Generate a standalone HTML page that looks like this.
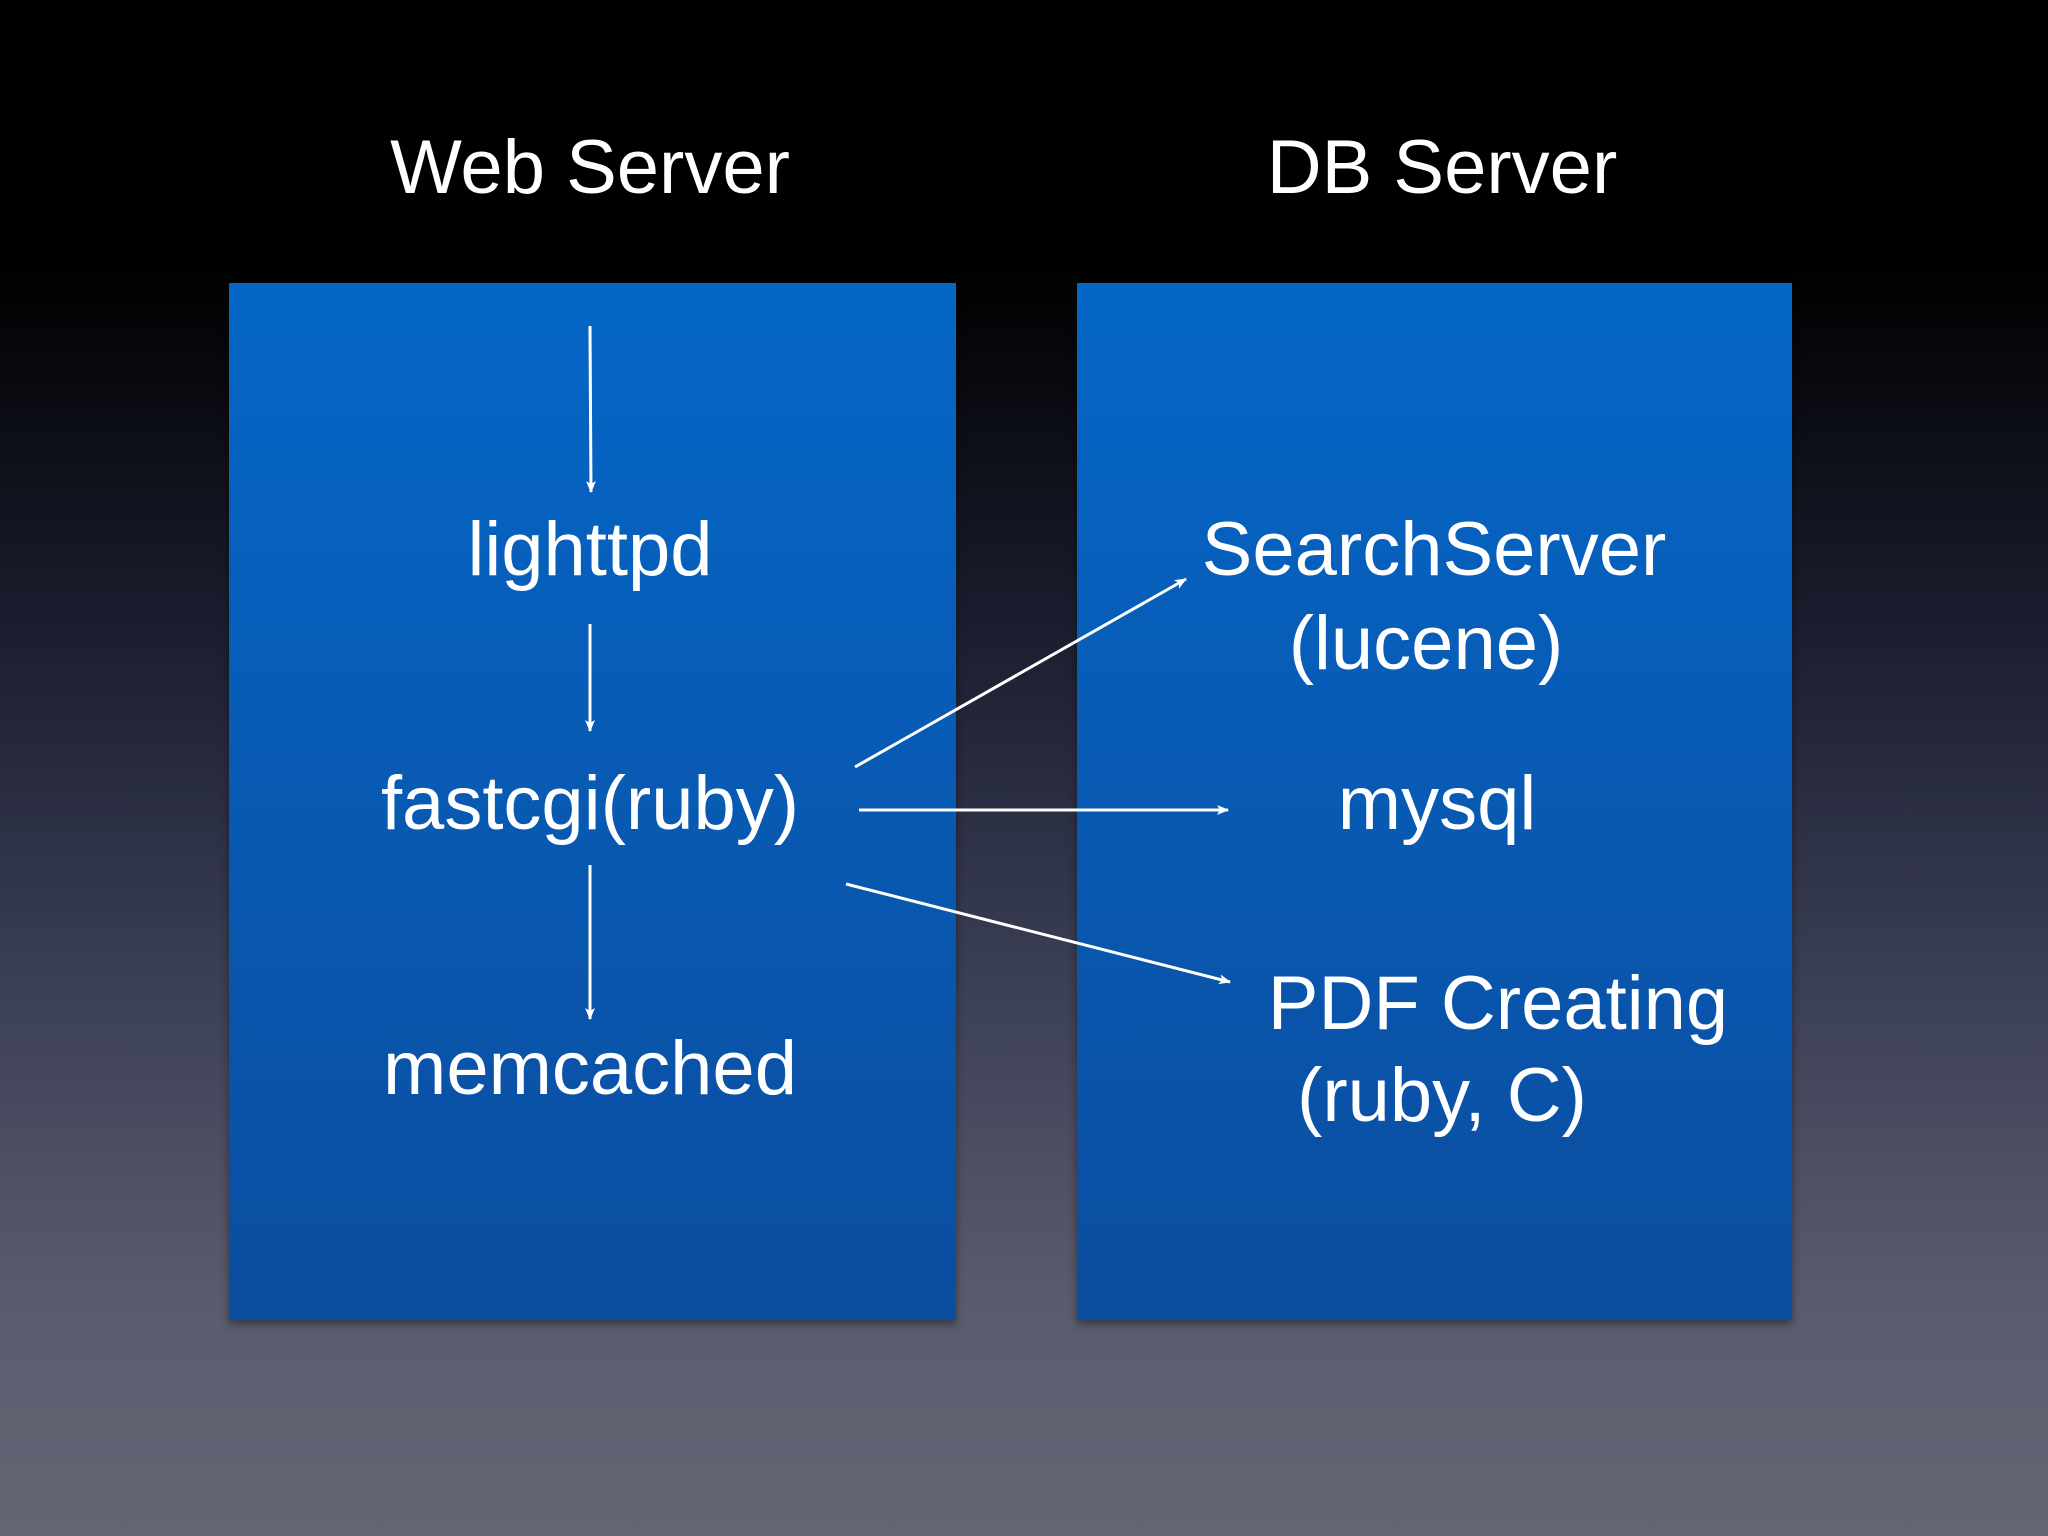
<!DOCTYPE html>
<html><head><style>
html,body{margin:0;padding:0;}
body{width:2048px;height:1536px;position:relative;overflow:hidden;
background:linear-gradient(to bottom,#000 0px,#000 260px,#1a1d2e 620px,#3d4157 1000px,#5a5b6c 1300px,#646575 1536px);
font-family:"Liberation Sans",sans-serif;color:#fff;}
.box{position:absolute;top:283px;height:1037px;background:linear-gradient(to bottom,#0566c6,#0b4d9f);box-shadow:0 4px 8px rgba(0,0,0,.4);}
.t{position:absolute;white-space:nowrap;font-size:76px;line-height:1;transform:translateX(-50%);}
svg{position:absolute;left:0;top:0;}
</style></head><body>
<div class="box" style="left:229px;width:727px"></div>
<div class="box" style="left:1077px;width:715px"></div>
<div class="t" style="left:590px;top:130px">Web Server</div>
<div class="t" style="left:1442px;top:130px">DB Server</div>
<div class="t" style="left:590px;top:512px">lighttpd</div>
<div class="t" style="left:590px;top:766px">fastcgi(ruby)</div>
<div class="t" style="left:590px;top:1031px">memcached</div>
<div class="t" style="left:1434px;top:512px">SearchServer</div>
<div class="t" style="left:1426px;top:606px">(lucene)</div>
<div class="t" style="left:1437px;top:766px">mysql</div>
<div class="t" style="left:1498px;top:966px">PDF Creating</div>
<div class="t" style="left:1442px;top:1058px">(ruby, C)</div>
<svg width="2048" height="1536">
<defs><marker id="a" markerWidth="12" markerHeight="10" refX="11" refY="5" orient="auto" markerUnits="userSpaceOnUse"><path d="M0,0 L12,5 L0,10 L3,5Z" fill="#fff"/></marker></defs>
<g stroke="#fff" stroke-width="3" fill="none" marker-end="url(#a)">
<line x1="590" y1="326" x2="591" y2="492"/>
<line x1="590" y1="624" x2="590" y2="731"/>
<line x1="590" y1="865" x2="590" y2="1019"/>
<line x1="855" y1="767" x2="1186" y2="579"/>
<line x1="859" y1="810" x2="1228" y2="810"/>
<line x1="846" y1="884" x2="1230" y2="982"/>
</g></svg>
</body></html>
